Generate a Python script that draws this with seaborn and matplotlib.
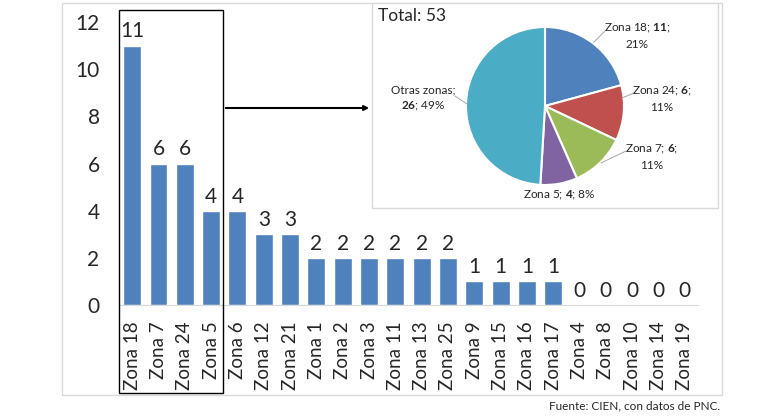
import matplotlib
matplotlib.use("Agg")
import matplotlib.pyplot as plt
import seaborn as sns
from matplotlib.patches import Rectangle, FancyArrowPatch

# bar chart data
zonas = ["Zona 18", "Zona 7", "Zona 24", "Zona 5", "Zona 6", "Zona 12", "Zona 21",
         "Zona 1", "Zona 2", "Zona 3", "Zona 11", "Zona 13", "Zona 25", "Zona 9",
         "Zona 15", "Zona 16", "Zona 17", "Zona 4", "Zona 8", "Zona 10", "Zona 14", "Zona 19"]
casos = [11, 6, 6, 4, 4, 3, 3, 2, 2, 2, 2, 2, 2, 1, 1, 1, 1, 0, 0, 0, 0, 0]

# pie inset data
pie_labels = ["Zona 18", "Zona 24", "Zona 7", "Zona 5", "Otras zonas"]
pie_values = [11, 6, 6, 4, 26]
pie_colors = ["#4F81BD", "#C0504D", "#9BBB59", "#8064A2", "#4BACC6"]

sns.set_style("white")
plt.rcParams["font.family"] = ["Lato", "DejaVu Sans"]
plt.rcParams["mathtext.fontset"] = "custom"
plt.rcParams["mathtext.rm"] = "Lato"
plt.rcParams["mathtext.bf"] = "Lato:bold"

W, H = 782, 417
fig = plt.figure(figsize=(W / 100, H / 100), dpi=100)


def fx(px):
    return px / W


def fy(py):
    return 1 - py / H


# outer light border
fig.patches.append(Rectangle((fx(62), fy(395)), fx(722) - fx(62), fy(3) - fy(395),
                             transform=fig.transFigure, fill=False, edgecolor="#d9d9d9", lw=1))

ax = fig.add_axes([fx(119), fy(305), fx(698) - fx(119), fy(22) - fy(305)])
sns.barplot(x=zonas, y=casos, color="#4F81BD", width=0.68, saturation=1, ax=ax)
ax.set_xlim(-0.5, len(zonas) - 0.5)
ax.set_ylim(0, 12)
ax.set_yticks(range(0, 13, 2))
for s in ["top", "right", "left"]:
    ax.spines[s].set_visible(False)
ax.spines["bottom"].set_color("#d9d9d9")
ax.tick_params(axis="y", length=0, pad=14, labelsize=15)
ax.tick_params(axis="x", length=0, pad=12, labelsize=13.5, rotation=90)
ax.bar_label(ax.containers[0], labels=[str(v) for v in casos], padding=3, fontsize=15)
ax.set_xlabel("")
ax.set_ylabel("")

# box around first four bars and arrow to inset
fig.patches.append(Rectangle((fx(119), fy(393)), fx(223) - fx(119), fy(10) - fy(393),
                             transform=fig.transFigure, fill=False, edgecolor="black", lw=1))
fig.patches.append(FancyArrowPatch((fx(223), fy(108)), (fx(372), fy(108)),
                                   transform=fig.transFigure, arrowstyle="-|>",
                                   mutation_scale=7, color="black", lw=1.5))

# inset frame
fig.patches.append(Rectangle((fx(372), fy(208)), fx(718) - fx(372), fy(3) - fy(208),
                             transform=fig.transFigure, facecolor="white",
                             edgecolor="#d9d9d9", lw=1, zorder=3))
fig.text(fx(378), fy(16), "Total: 53", fontsize=12.5, va="center", ha="left", zorder=4)

r = 79
pax = fig.add_axes([fx(545 - r), fy(106 + r), fx(2 * r), 2 * r / H], zorder=5)
pax.pie(pie_values, colors=pie_colors, startangle=90, counterclock=False,
        wedgeprops=dict(edgecolor="white", linewidth=1.5))
pax.set_xlim(-1, 1)
pax.set_ylim(-1, 1)

tot = sum(pie_values)
pct = [round(v * 100 / tot) for v in pie_values]
lbl_kw = dict(fontsize=8.5, ha="center", va="center", zorder=6, linespacing=1.5)
fig.text(fx(637), fy(36), f"{pie_labels[0]}; $\\bf{{{pie_values[0]}}}$;\n{pct[0]}%", **lbl_kw)
fig.text(fx(662), fy(99), f"{pie_labels[1]}; $\\bf{{{pie_values[1]}}}$;\n{pct[1]}%", **lbl_kw)
fig.text(fx(652), fy(157), f"{pie_labels[2]}; $\\bf{{{pie_values[2]}}}$;\n{pct[2]}%", **lbl_kw)
fig.text(fx(559), fy(195), f"{pie_labels[3]}; $\\bf{{{pie_values[3]}}}$; {pct[3]}%", **lbl_kw)
fig.text(fx(423), fy(99), f"{pie_labels[4]};\n$\\bf{{{pie_values[4]}}}$; {pct[4]}%", **lbl_kw)

leaders = [((605, 31), (594, 42)), ((634, 93), (622, 98)), ((626, 151), (601, 163)),
           ((455, 96), (467, 104))]
for (x0, y0), (x1, y1) in leaders:
    fig.add_artist(plt.Line2D([fx(x0), fx(x1)], [fy(y0), fy(y1)], transform=fig.transFigure,
                              color="#a6a6a6", lw=0.7, zorder=6))

fig.text(fx(720), fy(406), "Fuente: CIEN, con datos de PNC.", fontsize=8.5, ha="right", va="center")

fig.savefig("out.png", dpi=100)
